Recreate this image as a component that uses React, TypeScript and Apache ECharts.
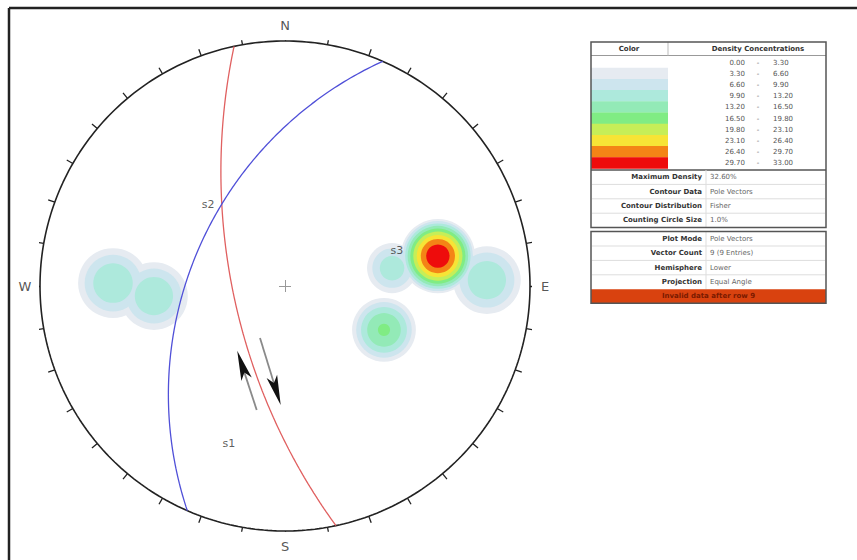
import React, { useEffect, useRef } from "react";
import * as echarts from "echarts";

// ---------- data ----------
const directionLabels = ["N", "E", "S", "W"];
const directionAzimuths = [0, 90, 180, 270];
const tickAzimuths = [0, 10, 20, 30, 40, 50, 60, 70, 80, 90, 100, 110, 120, 130, 140, 150, 160, 170, 180, 190, 200, 210, 220, 230, 240, 250, 260, 270, 280, 290, 300, 310, 320, 330, 340, 350];

// planes (great circles): dip direction / dip in degrees
const planeDipDirections = [258, 293.5];
const planeDips = [66, 48];

// poles (projected east / north coordinates on the unit net), peak density (%) and counting spread
const poleEast = [-0.702, -0.535, 0.437, 0.624, 0.824, 0.404];
const poleNorth = [0.012, -0.041, 0.073, 0.122, 0.024, -0.179];
const polePeakDensity = [13, 13, 12, 32.6, 13, 17];
const poleSpread = [0.165, 0.16, 0.12, 0.16, 0.16, 0.145];

// annotations
const labelNames = ["s1", "s2", "s3"];
const labelEast = [-0.229, -0.314, 0.457];
const labelNorth = [-0.641, 0.331, 0.143];

const arrowStarts = [[-0.1155, -0.506], [-0.102, -0.212]];
const arrowTips = [[-0.195, -0.264], [-0.0176, -0.486]];

// legend table
const densityLow = [0.0, 3.3, 6.6, 9.9, 13.2, 16.5, 19.8, 23.1, 26.4, 29.7];
const densityHigh = [3.3, 6.6, 9.9, 13.2, 16.5, 19.8, 23.1, 26.4, 29.7, 33.0];
const contourInfoLabels = ["Maximum Density", "Contour Data", "Contour Distribution", "Counting Circle Size"];
const contourInfoValues = ["32.60%", "Pole Vectors", "Fisher", "1.0%"];
const plotInfoLabels = ["Plot Mode", "Vector Count", "Hemisphere", "Projection"];
const plotInfoValues = ["Pole Vectors", "9 (9 Entries)", "Lower", "Equal Angle"];
const warningText = "Invalid data after row 9";

// ---------- styles ----------
const densityColors = ["#ffffff", "#e6ebf1", "#cde5ee", "#ade9dc", "#93eab7", "#80ec84", "#c6ee58", "#f7e436", "#f48416", "#ee0c0c"];
const planeColors = ["#e06060", "#5050d8"];
const PX = 245; // pixels per net unit
const FONT = '"DejaVu Sans", Verdana, sans-serif';

function project(e: number, n: number, d: number): number[] {
  return [e / (1 + d), n / (1 + d)];
}

function greatCircle(dd: number, dip: number): number[][] {
  const r = Math.PI / 180;
  const st = (dd - 90) * r;
  const ddr = dd * r;
  const dp = dip * r;
  const s = [Math.sin(st), Math.cos(st), 0];
  const dv = [Math.sin(ddr) * Math.cos(dp), Math.cos(ddr) * Math.cos(dp), Math.sin(dp)];
  const pts: number[][] = [];
  for (let i = 0; i <= 180; i++) {
    const a = i * r;
    const v = [0, 1, 2].map((j) => Math.cos(a) * s[j] + Math.sin(a) * dv[j]);
    pts.push(project(v[0], v[1], Math.max(0, v[2])));
  }
  return pts;
}

function buildOption() {
  const series: any[] = [];

  // density contours as layered counting circles
  for (let k = 1; k < densityLow.length; k++) {
    const t = densityLow[k];
    const data: number[][] = [];
    for (let i = 0; i < poleEast.length; i++) {
      const A = polePeakDensity[i];
      if (A > t) {
        const r = poleSpread[i] * Math.sqrt(1 - t / A) * PX;
        data.push([poleEast[i], poleNorth[i], r]);
      }
    }
    series.push({
      type: "scatter",
      name: "density " + densityLow[k] + "-" + densityHigh[k],
      data,
      symbol: "circle",
      symbolSize: (v: number[]) => v[2] * 2,
      itemStyle: { color: densityColors[k], opacity: 1 },
      silent: true,
      clip: false,
      z: 1 + k,
    });
  }

  // primitive circle
  const circle: number[][] = [];
  for (let a = 0; a <= 360; a += 1) {
    const r = (a * Math.PI) / 180;
    circle.push([Math.sin(r), Math.cos(r)]);
  }
  series.push({
    type: "line",
    data: circle,
    showSymbol: false,
    symbol: "none",
    clip: false,
    silent: true,
    lineStyle: { color: "#222", width: 1.6 },
    z: 20,
  });

  // great circles
  planeDipDirections.forEach((dd, i) => {
    series.push({
      type: "line",
      data: greatCircle(dd, planeDips[i]),
      showSymbol: false,
      symbol: "none",
      clip: false,
      silent: true,
      lineStyle: { color: planeColors[i], width: 1.3 },
      z: 21,
    });
  });

  // ticks + centre cross
  const tickLen = 7 / PX;
  const crossLen = 6 / PX;
  const tickData = tickAzimuths.map((az) => {
    const r = (az * Math.PI) / 180;
    return { coords: [[Math.sin(r), Math.cos(r)], [(1 + tickLen) * Math.sin(r), (1 + tickLen) * Math.cos(r)]] };
  });
  series.push({
    type: "lines",
    coordinateSystem: "cartesian2d",
    data: tickData,
    lineStyle: { color: "#222", width: 1.3, opacity: 1 },
    silent: true,
    z: 20,
  });
  series.push({
    type: "lines",
    coordinateSystem: "cartesian2d",
    data: [
      { coords: [[-crossLen, 0], [crossLen, 0]] },
      { coords: [[0, -crossLen], [0, crossLen]] },
    ],
    lineStyle: { color: "#999", width: 1, opacity: 1 },
    silent: true,
    z: 20,
  });

  // arrows: shafts and heads
  const headLen = 30 / PX;
  const shafts: any[] = [];
  const heads: any[] = [];
  arrowStarts.forEach((st, i) => {
    const tip = arrowTips[i];
    const dx = tip[0] - st[0];
    const dy = tip[1] - st[1];
    const len = Math.sqrt(dx * dx + dy * dy);
    const ux = dx / len;
    const uy = dy / len;
    shafts.push({ coords: [st, [tip[0] - ux * headLen * 0.7, tip[1] - uy * headLen * 0.7]] });
    heads.push({
      value: [tip[0] - (ux * headLen) / 2, tip[1] - (uy * headLen) / 2],
      symbolRotate: (Math.atan2(-dx, dy) * 180) / Math.PI,
    });
  });
  series.push({
    type: "lines",
    coordinateSystem: "cartesian2d",
    data: shafts,
    lineStyle: { color: "#8a8a8a", width: 1.8, opacity: 1 },
    silent: true,
    z: 22,
  });
  series.push({
    type: "scatter",
    data: heads,
    symbol: "path://M5,0 L10,30 L5,23 L0,30 Z",
    symbolSize: [11, 30],
    itemStyle: { color: "#111", opacity: 1 },
    silent: true,
    clip: false,
    z: 23,
  });

  // annotation labels
  series.push({
    type: "scatter",
    data: labelNames.map((n, i) => ({ value: [labelEast[i], labelNorth[i]], name: n })),
    symbolSize: 1,
    itemStyle: { color: "transparent" },
    label: {
      show: true,
      position: "inside",
      formatter: (p: any) => p.name,
      color: "#333",
      fontSize: 11,
      fontFamily: FONT,
    },
    silent: true,
    clip: false,
    z: 24,
  });

  // direction labels
  series.push({
    type: "scatter",
    data: directionLabels.map((n, i) => {
      const r = (directionAzimuths[i] * Math.PI) / 180;
      return { value: [1.062 * Math.sin(r), 1.062 * Math.cos(r)], name: n };
    }),
    symbolSize: 1,
    itemStyle: { color: "transparent" },
    label: {
      show: true,
      position: "inside",
      formatter: (p: any) => p.name,
      color: "#2a2a2a",
      fontSize: 13,
      fontFamily: FONT,
    },
    silent: true,
    clip: false,
    z: 24,
  });

  // ---------- legend table (graphic) ----------
  const g: any[] = [];
  const x0 = 591;
  const x1 = 826;
  const txt = (text: string, x: number, y: number, align: string, bold: boolean, fill: string, size = 7) => ({
    type: "text",
    x,
    y,
    silent: true,
    style: {
      text,
      x: 0,
      y: 0,
      align,
      textAlign: align,
      verticalAlign: "middle",
      textVerticalAlign: "middle",
      font: (bold ? "bold " : "") + size + "px " + FONT,
      fill,
    },
  });
  const hline = (y: number, xa: number, xb: number, color: string, w: number) => ({
    type: "line",
    silent: true,
    shape: { x1: xa, y1: y, x2: xb, y2: y },
    style: { stroke: color, lineWidth: w },
  });
  const vline = (x: number, ya: number, yb: number, color: string, w: number) => ({
    type: "line",
    silent: true,
    shape: { x1: x, y1: ya, x2: x, y2: yb },
    style: { stroke: color, lineWidth: w },
  });

  // box 1
  const y0 = 42;
  const bandTop = 56.5;
  const bandH = 11.2;
  const colDiv = 668;
  densityLow.forEach((lo, i) => {
    const yb = bandTop + i * bandH;
    g.push({
      type: "rect",
      silent: true,
      shape: { x: x0, y: yb, width: colDiv - x0, height: bandH + 0.3 },
      style: { fill: densityColors[i] },
    });
    const yc = yb + bandH / 2 + 0.5;
    g.push(txt(lo.toFixed(2), 745, yc, "right", false, "#555"));
    g.push(txt("-", 758, yc, "center", false, "#555"));
    g.push(txt(densityHigh[i].toFixed(2), 773, yc, "left", false, "#555"));
  });
  const bandBottom = bandTop + densityLow.length * bandH;
  g.push(txt("Color", 629, 48.5, "center", true, "#333"));
  g.push(txt("Density Concentrations", 758, 48.5, "center", true, "#333"));
  g.push(hline(55.5, x0, x1, "#999", 1));
  g.push(vline(colDiv, y0, 55.5, "#bbb", 1));
  const sec2Top = bandBottom + 1.5;
  g.push(hline(sec2Top, x0, x1, "#555", 1.3));
  const rowH = 14.4;
  const labX = 702;
  const valX = 710;
  const div2 = 706;
  contourInfoLabels.forEach((l, i) => {
    const yc = sec2Top + rowH * i + rowH / 2;
    g.push(txt(l, labX, yc, "right", true, "#333"));
    g.push(txt(contourInfoValues[i], valX, yc, "left", false, "#666"));
    if (i > 0) g.push(hline(sec2Top + rowH * i, x0 + 1, x1 - 1, "#ddd", 1));
  });
  const box1Bottom = sec2Top + rowH * contourInfoLabels.length;
  g.push(vline(div2, sec2Top, box1Bottom, "#ddd", 1));
  g.push({
    type: "rect",
    silent: true,
    shape: { x: x0, y: y0, width: x1 - x0, height: box1Bottom - y0 },
    style: { fill: "none", stroke: "#555", lineWidth: 1.5 },
  });

  // box 2
  const b2Top = box1Bottom + 4;
  plotInfoLabels.forEach((l, i) => {
    const yc = b2Top + rowH * i + rowH / 2;
    g.push(txt(l, labX, yc, "right", true, "#333"));
    g.push(txt(plotInfoValues[i], valX, yc, "left", false, "#666"));
    if (i > 0) g.push(hline(b2Top + rowH * i, x0 + 1, x1 - 1, "#ddd", 1));
  });
  const barTop = b2Top + rowH * plotInfoLabels.length;
  g.push(vline(div2, b2Top, barTop, "#ddd", 1));
  g.push({
    type: "rect",
    silent: true,
    shape: { x: x0, y: barTop, width: x1 - x0, height: 14 },
    style: { fill: "#d9420f" },
  });
  g.push(txt(warningText, (x0 + x1) / 2, barTop + 7, "center", true, "#7a1a00"));
  g.push({
    type: "rect",
    silent: true,
    shape: { x: x0, y: b2Top, width: x1 - x0, height: barTop + 14 - b2Top },
    style: { fill: "none", stroke: "#555", lineWidth: 1.5 },
  });

  // outer frame
  g.push({ type: "line", silent: true, shape: { x1: 9, y1: 8, x2: 857, y2: 8 }, style: { stroke: "#222", lineWidth: 2.5 } });
  g.push({ type: "line", silent: true, shape: { x1: 9, y1: 8, x2: 9, y2: 560 }, style: { stroke: "#222", lineWidth: 2.5 } });

  return {
    animation: false,
    backgroundColor: "#ffffff",
    grid: { left: 40, top: 41, width: 490, height: 490 },
    xAxis: { type: "value", min: -1, max: 1, show: false },
    yAxis: { type: "value", min: -1, max: 1, show: false },
    series,
    graphic: { elements: g },
  };
}

export default function App() {
  const ref = useRef<HTMLDivElement>(null);
  useEffect(() => {
    document.body.style.margin = "0";
    if (!ref.current) return;
    const chart = echarts.init(ref.current, undefined, { renderer: "svg" });
    chart.setOption(buildOption() as any);
    return () => chart.dispose();
  }, []);
  return <div ref={ref} style={{ width: 857, height: 560 }} />;
}
